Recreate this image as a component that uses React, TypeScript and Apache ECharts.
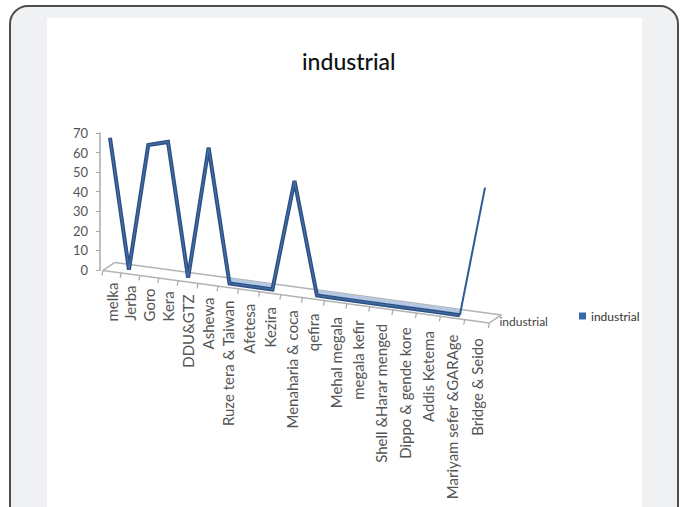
import React, { useEffect, useRef } from "react";
import * as echarts from "echarts";

// Sites along the category axis
const categories = [
  "melka",
  "Jerba",
  "Goro",
  "Kera",
  "DDU&GTZ",
  "Ashewa",
  "Ruze tera & Taiwan",
  "Afetesa",
  "Kezira",
  "Menaharia & coca",
  "qefira",
  "Mehal megala",
  "megala kefir",
  "Shell &Harar menged",
  "Dippo & gende kore",
  "Addis Ketema",
  "Mariyam sefer &GARAge",
  "Bridge & Seido",
];

// Industrial share per site
const industrial = [66, 0, 65, 68, 0, 68, 0, 0, 0, 57, 0, 0, 0, 0, 0, 0, 0, 67];

const seriesName = "industrial";
const yMin = 0;
const yMax = 70;
const yStep = 10;

const FONT = "Lato, 'Open Sans', sans-serif";

// Mild perspective: spacing widens toward the viewer on the right
const warp = (u: number) => 0.85 * u + 0.15 * u * u;
const FLOOR_SLOPE = 0.136;
const LINE_SLOPE = 0.138;
const DEPTH = [12, -8];

export default function App() {
  const ref = useRef<HTMLDivElement>(null);

  useEffect(() => {
    if (!ref.current) return;
    const chart = echarts.init(ref.current, undefined, { renderer: "svg" });
    const n = categories.length;

    const frame = (api: any) => {
      const a = api.coord([0, 0]);
      const b = api.coord([n - 1, 0]);
      return { x0: a[0], y0: a[1], L: b[0] - a[0] };
    };
    const frontX = (f: any, t: number) => f.x0 + 2 + (f.L - 10) * warp(t / (n - 1));
    const frontY = (f: any, x: number) => f.y0 + FLOOR_SLOPE * (x - (f.x0 - 10));

    const option: any = {
      animation: false,
      title: {
        text: "industrial",
        left: 297,
        top: 44,
        textStyle: { fontSize: 23, fontWeight: 500, color: "#111", fontFamily: FONT },
      },
      legend: {
        data: [seriesName],
        left: 579,
        top: 310,
        padding: 0,
        icon: "rect",
        itemWidth: 7,
        itemHeight: 7,
        itemGap: 4,
        textStyle: { fontSize: 12, color: "#333", fontFamily: FONT },
      },
      graphic: [
        {
          type: "rect",
          z: -10,
          silent: true,
          shape: { x: 10, y: 6, width: 668, height: 560, r: 18 },
          style: { fill: "#f0f1f3", stroke: "#4d4d4d", lineWidth: 2 },
        },
        {
          type: "rect",
          z: -9,
          silent: true,
          shape: { x: 47, y: 18, width: 595, height: 560 },
          style: { fill: "#ffffff" },
        },
      ],
      grid: { left: 110, right: 200, top: 133, bottom: 237 },
      xAxis: {
        type: "category",
        data: categories,
        boundaryGap: false,
        show: false,
      },
      yAxis: {
        type: "value",
        min: yMin,
        max: yMax,
        interval: yStep,
        offset: 10,
        axisLine: { show: true, lineStyle: { color: "#a8a8a8", width: 1.5 } },
        axisTick: { show: true, length: 4, lineStyle: { color: "#a8a8a8" } },
        axisLabel: { color: "#555", fontSize: 13, margin: 12, fontFamily: FONT },
        splitLine: { show: false },
      },
      series: [
        {
          // floor of the plot with its tick marks
          type: "custom",
          name: "floor",
          silent: true,
          z: 1,
          data: [[0, 0]],
          renderItem: (_params: any, api: any) => {
            const f = frame(api);
            const xl = frontX(f, -0.5);
            const xr = frontX(f, n - 0.5);
            const yl = frontY(f, xl);
            const yr = frontY(f, xr);
            const stroke = { stroke: "#b3b3b3", lineWidth: 1.5 };
            const children: any[] = [
              { type: "line", shape: { x1: xl, y1: yl, x2: xr, y2: yr }, style: stroke },
              {
                type: "line",
                shape: { x1: xl + DEPTH[0], y1: yl + DEPTH[1], x2: xr + DEPTH[0], y2: yr + DEPTH[1] },
                style: stroke,
              },
              { type: "line", shape: { x1: xl, y1: yl, x2: xl + DEPTH[0], y2: yl + DEPTH[1] }, style: stroke },
              { type: "line", shape: { x1: xr, y1: yr, x2: xr + DEPTH[0], y2: yr + DEPTH[1] }, style: stroke },
              {
                type: "text",
                x: xr + 10,
                y: yr - 1,
                style: {
                  text: seriesName,
                  align: "left",
                  verticalAlign: "middle",
                  fill: "#444",
                  fontSize: 12,
                  fontFamily: FONT,
                },
              },
            ];
            for (let k = 0; k <= n; k++) {
              const x = frontX(f, k - 0.5);
              const y = frontY(f, x);
              children.push({
                type: "line",
                shape: { x1: x, y1: y, x2: x - 1, y2: y + 5 },
                style: { stroke: "#a8a8a8", lineWidth: 1.2 },
              });
            }
            return { type: "group", children };
          },
        },
        {
          type: "custom",
          name: seriesName,
          z: 3,
          itemStyle: { color: "#3b67ae" },
          data: industrial.map((v, i) => [i, v]),
          encode: { x: 0, y: 1 },
          renderItem: (params: any, api: any) => {
            if (params.dataIndex !== 0) return { type: "group", children: [] };
            const f = frame(api);
            const pts = industrial.map((v, i) => {
              const p = api.coord([i, v]);
              const u = (p[0] - f.x0) / f.L;
              const x = f.x0 + f.L * warp(u);
              const y = p[1] - 3 + LINE_SLOPE * (x - f.x0);
              return [x, y];
            });
            const main = pts.slice(0, n - 1);
            const last = pts.slice(n - 2);
            const children: any[] = [];
            // top face of the ribbon, visible where it lies along the floor
            for (let i = 0; i < n - 2; i++) {
              if (industrial[i] === 0 && industrial[i + 1] === 0) {
                children.push({
                  type: "line",
                  shape: {
                    x1: pts[i][0] + 1,
                    y1: pts[i][1] - 3.5,
                    x2: pts[i + 1][0] + 1,
                    y2: pts[i + 1][1] - 3.5,
                  },
                  style: { stroke: "#b4c8e2", lineWidth: 4 },
                });
              }
            }
            children.push(
              {
                type: "polyline",
                shape: { points: main },
                style: { stroke: "#2a4f84", lineWidth: 4, fill: null, lineJoin: "miter" },
              },
              {
                type: "polyline",
                shape: { points: main },
                style: { stroke: "#4870a6", lineWidth: 1.2, fill: null, lineJoin: "miter" },
              },
              {
                type: "polyline",
                shape: { points: last },
                style: { stroke: "#2f5a92", lineWidth: 2, fill: null },
              }
            );
            return { type: "group", children };
          },
        },
        {
          // category names standing under the floor
          type: "custom",
          name: "labels",
          silent: true,
          z: 2,
          data: categories.map((_c, i) => [i, 0]),
          encode: { x: 0, y: 1 },
          renderItem: (params: any, api: any) => {
            const f = frame(api);
            const p = api.coord([params.dataIndex, 0]);
            const u = (p[0] - f.x0) / f.L;
            const x = frontX(f, u * (n - 1));
            const y = frontY(f, x) + 11 + 6 * u;
            return {
              type: "text",
              x,
              y,
              rotation: Math.PI / 2,
              style: {
                text: categories[params.dataIndex],
                align: "right",
                verticalAlign: "middle",
                fill: "#555",
                fontSize: 15,
                fontFamily: FONT,
              },
            };
          },
        },
      ],
    };

    chart.setOption(option);
    return () => chart.dispose();
  }, []);

  return (
    <div
      ref={ref}
      style={{ position: "fixed", left: 0, top: 0, width: 685, height: 507, background: "#ffffff" }}
    />
  );
}
